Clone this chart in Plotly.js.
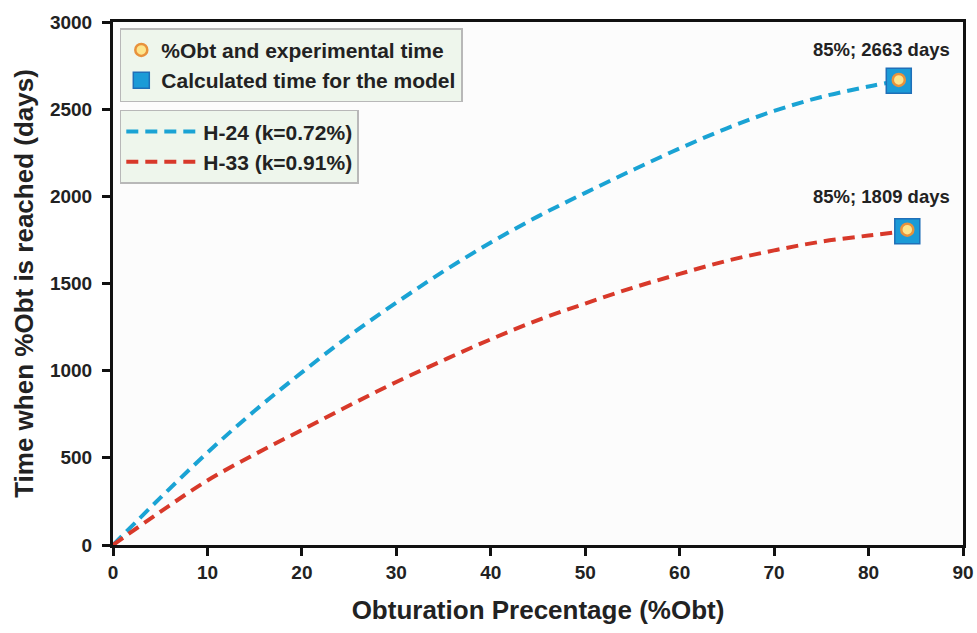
<!DOCTYPE html>
<html>
<head>
<meta charset="utf-8">
<script src="https://cdn.plot.ly/plotly-3.0.1.min.js"></script>
<style>html,body{margin:0;padding:0;background:#fff;}#chart{width:977px;height:633px;}</style>
</head>
<body>
<div id="chart"></div>
<script>
// Data
var obtH24 = [0, 5, 10, 15, 20, 25, 30, 35, 40, 45, 50, 55, 60, 65, 70, 75, 80, 83.2];
var timeH24 = [0, 270, 530, 770, 990, 1200, 1390, 1570, 1735, 1885, 2020, 2150, 2275, 2390, 2490, 2570, 2630, 2663];
var obtH33 = [0, 5, 10, 15, 20, 25, 30, 35, 40, 45, 50, 55, 60, 65, 70, 75, 80, 84.1];
var timeH33 = [0, 190, 370, 520, 660, 800, 935, 1060, 1180, 1290, 1385, 1475, 1555, 1630, 1690, 1740, 1775, 1800];
var pointObt = [83.2, 84.1];
var pointCalc = [2663, 1800];
var pointExp = [2668, 1809];
var annText = ["85%; 2663 days", "85%; 1809 days"];
var annX = [81.4, 81.4];
var annY = [2840, 1997];
var xTicks = [0, 10, 20, 30, 40, 50, 60, 70, 80, 90];
var yTicks = [0, 500, 1000, 1500, 2000, 2500, 3000];

var F = "Liberation Sans, Arial, sans-serif";
var NB = "\u00a0";
var traces = [
  {x: obtH24, y: timeH24, mode: "lines", name: "H-24 (k=0.72%)", legend: "legend2",
   line: {color: "#1aa3d4", width: 4, dash: "12px,7px", shape: "spline"}},
  {x: obtH33, y: timeH33, mode: "lines", name: "H-33 (k=0.91%)", legend: "legend2",
   line: {color: "#d8392a", width: 4, dash: "12px,7px", shape: "spline"}},
  {x: pointObt, y: pointCalc, mode: "markers", name: "Calculated time for the model", legendrank: 2,
   marker: {symbol: "square", size: 25, color: "#1b9bd7", line: {color: "#1f6fb8", width: 1.5}}},
  {x: pointObt, y: pointExp, mode: "markers", name: "%Obt and experimental time", legendrank: 1,
   marker: {symbol: "circle", size: 12, color: "#fde58c", line: {color: "#e8923c", width: 2.5}}}
];

var annotations = annText.map(function (t, i) {
  return {x: annX[i], y: annY[i], text: t, showarrow: false, xanchor: "center", yanchor: "middle",
          font: {family: F, size: 18.5, color: "#222", weight: "bold"}};
});

var layout = {
  width: 977, height: 633,
  margin: {l: 113, r: 14, t: 22, b: 88},
  paper_bgcolor: "#ffffff",
  plot_bgcolor: "#fcfcfc",
  showlegend: true,
  font: {family: F, color: "#222"},
  xaxis: {
    range: [0, 90], tickvals: xTicks, ticks: "outside", ticklen: 8, tickwidth: 3, tickcolor: "#111",
    showline: true, linewidth: 3, linecolor: "#111", mirror: true, showgrid: false, zeroline: false,
    tickfont: {family: F, size: 19, color: "#222", weight: "bold"},
    title: {text: "Obturation Precentage (%Obt)" + NB.repeat(6), font: {family: F, size: 26, color: "#222", weight: "bold"}, standoff: 20}
  },
  yaxis: {
    range: [0, 3000], tickvals: yTicks, ticks: "outside", ticklen: 8, tickwidth: 3, tickcolor: "#111",
    showline: true, linewidth: 3, linecolor: "#111", mirror: true, showgrid: false, zeroline: false,
    ticklabelstandoff: 6,
    tickfont: {family: F, size: 19, color: "#222", weight: "bold"},
    title: {text: "Time when %Obt is reached (days)" + NB.repeat(5), font: {family: F, size: 26, color: "#222", weight: "bold"}, standoff: 9}
  },
  legend: {
    x: 0.008, y: 0.988, xanchor: "left", yanchor: "top",
    bgcolor: "#eef6ec", bordercolor: "#b8b8b8", borderwidth: 1.5,
    font: {family: F, size: 21, color: "#222", weight: "bold"},
    itemwidth: 30, tracegroupgap: 0
  },
  legend2: {
    x: 0.008, y: 0.832, xanchor: "left", yanchor: "top",
    bgcolor: "#eef6ec", bordercolor: "#b8b8b8", borderwidth: 1.5,
    font: {family: F, size: 21, color: "#222", weight: "bold"},
    itemwidth: 72
  },
  annotations: annotations
};

Plotly.newPlot("chart", traces, layout, {displayModeBar: false, staticPlot: true});
</script>
</body>
</html>
